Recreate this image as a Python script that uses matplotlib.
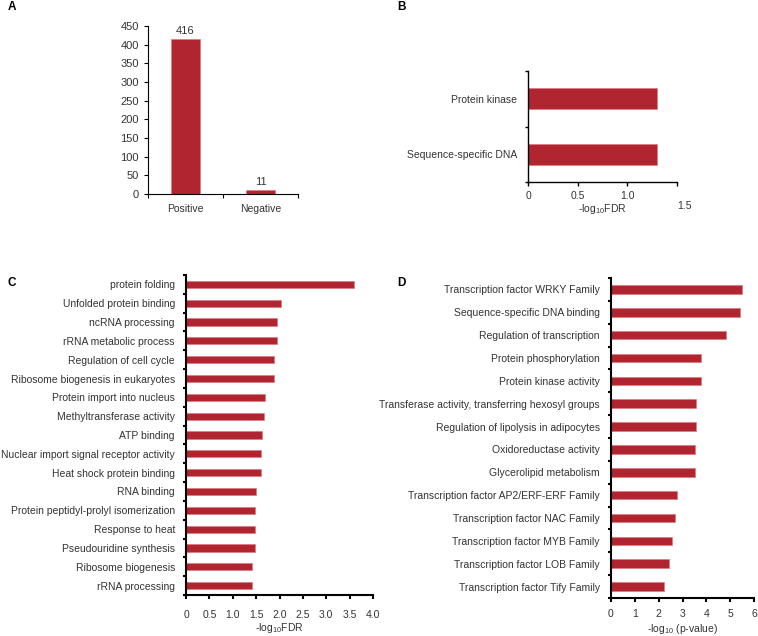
import numpy as np
import matplotlib
matplotlib.use("Agg")
import matplotlib.pyplot as plt

plt.rcParams['font.family'] = ['Liberation Sans', 'DejaVu Sans']
plt.rcParams['mathtext.default'] = 'regular'
plt.rcParams['font.size'] = 7.5

# panel A
a_labels = ["Positive", "Negative"]
a_values = [416, 11]

# panel B
b_labels = ["Sequence-specific DNA", "Protein kinase"]
b_values = [1.30, 1.30]

# panel C (top to bottom)
c_labels = ["protein folding", "Unfolded protein binding", "ncRNA processing",
            "rRNA metabolic process", "Regulation of cell cycle",
            "Ribosome biogenesis in eukaryotes", "Protein import into nucleus",
            "Methyltransferase activity", "ATP binding",
            "Nuclear import signal receptor activity", "Heat shock protein binding",
            "RNA binding", "Protein peptidyl-prolyl isomerization",
            "Response to heat", "Pseudouridine synthesis",
            "Ribosome biogenesis", "rRNA processing"]
c_values = [3.60, 2.04, 1.95, 1.95, 1.89, 1.88, 1.70, 1.66, 1.62, 1.60, 1.60,
            1.50, 1.47, 1.47, 1.47, 1.42, 1.42]

# panel D (top to bottom)
d_labels = ["Transcription factor WRKY Family", "Sequence-specific DNA binding",
            "Regulation of transcription", "Protein phosphorylation",
            "Protein kinase activity",
            "Transferase activity, transferring hexosyl groups",
            "Regulation of lipolysis in adipocytes", "Oxidoreductase activity",
            "Glycerolipid metabolism", "Transcription factor AP2/ERF-ERF Family",
            "Transcription factor NAC Family", "Transcription factor MYB Family",
            "Transcription factor LOB Family", "Transcription factor Tify Family"]
d_values = [5.50, 5.42, 4.84, 3.78, 3.78, 3.57, 3.55, 3.54, 3.52, 2.77, 2.67,
            2.56, 2.45, 2.22]

W, H = 758, 636
BAR = '#b0252f'
EDGE = '#e07a80'
TXT = '#333333'

fig = plt.figure(figsize=(W / 100, H / 100), dpi=100)


def px_axes(left, top, right, bottom):
    return fig.add_axes([left / W, 1 - bottom / H, (right - left) / W, (bottom - top) / H])


def style(ax, lw=1.0):
    ax.spines['top'].set_visible(False)
    ax.spines['right'].set_visible(False)
    ax.spines['left'].set_linewidth(lw)
    ax.spines['bottom'].set_linewidth(lw)
    ax.tick_params(colors='black', labelcolor=TXT, width=lw, length=3)


def hbar_panel(ax, labels, values, xmax, xticks, xticklabels, lw, xpad):
    n = len(labels)
    y = np.arange(n)[::-1]
    ax.barh(y, values, height=0.38, color=BAR, edgecolor=EDGE, linewidth=0.5)
    ax.set_ylim(-0.5, n - 0.5)
    ax.set_xlim(0, xmax)
    ax.set_yticks(y)
    ax.set_yticklabels(labels)
    ax.set_yticks(np.arange(n + 1) - 0.5, minor=True)
    ax.set_xticks(xticks)
    ax.set_xticklabels(xticklabels)
    style(ax, lw)
    ax.tick_params(axis='y', which='major', length=0, pad=8)
    ax.tick_params(axis='y', which='minor', length=2.5, width=lw)
    ax.tick_params(axis='x', pad=xpad)


# A
axA = px_axes(148, 26, 298, 194)
x = np.arange(len(a_labels))
axA.bar(x, a_values, width=0.39, color=BAR, edgecolor=EDGE, linewidth=0.5)
axA.set_xlim(-0.5, len(a_labels) - 0.5)
axA.set_ylim(0, 450)
axA.set_yticks(np.arange(0, 451, 50))
axA.set_xticks(x)
axA.set_xticklabels(a_labels)
axA.set_xticks(np.arange(len(a_labels) + 1) - 0.5, minor=True)
style(axA, 0.8)
axA.tick_params(axis='x', which='major', length=0, pad=7)
axA.tick_params(axis='x', which='minor', length=3, width=0.8)
axA.tick_params(axis='y', labelsize=8)
for xi, v in zip(x, a_values):
    axA.text(xi, v + 8, str(v), ha='center', va='bottom', color=TXT, fontsize=8)

# B
axB = px_axes(528, 71, 677, 182)
hbar_panel(axB, b_labels[::-1], b_values[::-1], 1.5, [0, 0.5, 1.0, 1.5],
           ['0', '0.5', '1.0', ''], 1.0, 3.5)
axB.set_xlabel('-log$_{10}$FDR', color=TXT, labelpad=1)
fig.text(677 / W, 1 - 206 / H, '1.5', ha='left', va='center', color=TXT, fontsize=7.5)

# C
axC = px_axes(186, 275, 373, 595)
hbar_panel(axC, c_labels, c_values, 4.0, np.arange(0, 4.01, 0.5),
           ['0', '0.5', '1.0', '1.5', '2.0', '2.5', '3.0', '3.5', '4.0'], 1.5, 7.5)
axC.set_xlabel('-log$_{10}$FDR', color=TXT, labelpad=1)

# D
axD = px_axes(611, 278, 754, 598)
hbar_panel(axD, d_labels, d_values, 6, np.arange(0, 7), [str(i) for i in range(7)], 1.5, 5)
axD.set_xlabel('-log$_{10}$ (p-value)', color=TXT, labelpad=2)

for lab, (px, py) in zip("ABCD", [(8, 7), (397, 7), (8, 283), (397, 283)]):
    fig.text(px / W, 1 - py / H, lab, ha='left', va='center', fontsize=8.5,
             fontweight='bold', color='black')

fig.savefig('out.png', dpi=100)
